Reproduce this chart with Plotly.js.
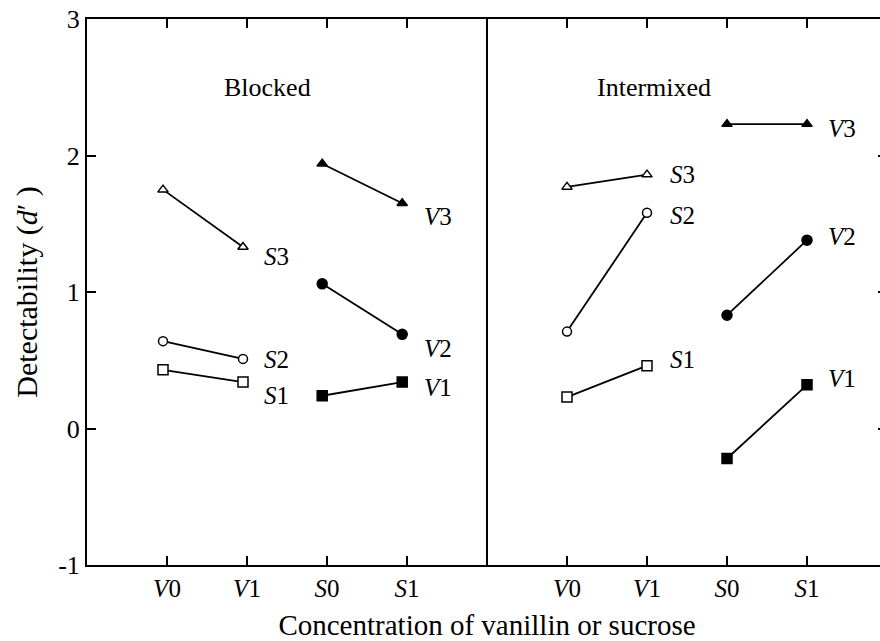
<!DOCTYPE html>
<html>
<head>
<meta charset="utf-8">
<script src="https://cdn.plot.ly/plotly-3.0.1.min.js"></script>
<style>
html,body{margin:0;padding:0;background:#fff;overflow:hidden;}
#wrap{width:880px;height:641px;overflow:hidden;position:relative;}
#chart{width:888px;height:641px;}
</style>
</head>
<body>
<div id="wrap"><div id="chart"></div></div>
<script>
const FONT = 'Liberation Serif';

// Tick positions and labels
const tickVals = [1, 2, 3, 4, 6, 7, 8, 9];
const tickText = ['<i>V</i>0', '<i>V</i>1', '<i>S</i>0', '<i>S</i>1', '<i>V</i>0', '<i>V</i>1', '<i>S</i>0', '<i>S</i>1'];
const yTickVals = [-1, 0, 1, 2, 3];
const yTickText = ['-1', '0', '1', '2', '3'];

// x positions of the conditions
const blockedVX = [0.95, 1.95];
const blockedSX = [2.94, 3.94];
const mixedVX = [6, 7];
const mixedSX = [8, 9];

// Blocked condition values (d')
const blockedS3 = [1.75, 1.33];
const blockedS2 = [0.64, 0.51];
const blockedS1 = [0.43, 0.34];
const blockedV3 = [1.94, 1.65];
const blockedV2 = [1.06, 0.69];
const blockedV1 = [0.24, 0.34];

// Intermixed condition values (d')
const mixedS3 = [1.77, 1.86];
const mixedS2 = [0.71, 1.58];
const mixedS1 = [0.23, 0.46];
const mixedV3 = [2.23, 2.23];
const mixedV2 = [0.83, 1.38];
const mixedV1 = [-0.22, 0.32];

const seriesNames = ['S3', 'S2', 'S1', 'V3', 'V2', 'V1'];
const symbols = ['triangle-up', 'circle', 'square', 'triangle-up', 'circle', 'square'];
const fills = ['#ffffff', '#ffffff', '#ffffff', '#000000', '#000000', '#000000'];
const sizes = [9, 9, 10, 9, 10, 10];

const groups = [
  {xs: [blockedVX, blockedVX, blockedVX, blockedSX, blockedSX, blockedSX],
   ys: [blockedS3, blockedS2, blockedS1, blockedV3, blockedV2, blockedV1],
   shifts: [[19, -10], [19, -1], [19, -13], [20, -13], [20, -14], [20, -5]]},
  {xs: [mixedVX, mixedVX, mixedVX, mixedSX, mixedSX, mixedSX],
   ys: [mixedS3, mixedS2, mixedS1, mixedV3, mixedV2, mixedV1],
   shifts: [[21, 0], [21, -3], [21, 6], [19, -4], [19, 4], [19, 6]]}
];

const traces = [];
const annotations = [];
groups.forEach(g => {
  for (let i = 0; i < 6; i++) {
    traces.push({
      type: 'scatter', mode: 'lines+markers',
      x: g.xs[i], y: g.ys[i],
      line: {color: '#000', width: 1.8},
      marker: {symbol: symbols[i], size: sizes[i], color: fills[i], line: {color: '#000', width: 1.5}},
      showlegend: false, hoverinfo: 'skip'
    });
    const n = seriesNames[i];
    annotations.push({
      x: g.xs[i][1], y: g.ys[i][1], xref: 'x', yref: 'y',
      text: '<i>' + n[0] + '</i>' + n.slice(1),
      showarrow: false, xanchor: 'left', yanchor: 'middle',
      xshift: g.shifts[i][0], yshift: g.shifts[i][1],
      font: {family: FONT, size: 25, color: '#000'}
    });
  }
});

annotations.push({x: 2.25, y: 2.5, xref: 'x', yref: 'y', text: 'Blocked', showarrow: false,
  font: {family: FONT, size: 26, color: '#000'}});
annotations.push({x: 7.09, y: 2.5, xref: 'x', yref: 'y', text: 'Intermixed', showarrow: false,
  font: {family: FONT, size: 26, color: '#000'}});

const layout = {
  width: 888, height: 641,
  margin: {l: 87, r: 1, t: 19, b: 76},
  paper_bgcolor: '#fff', plot_bgcolor: '#fff',
  font: {family: FONT, color: '#000'},
  xaxis: {
    range: [0, 10], tickvals: tickVals, ticktext: tickText,
    ticks: 'inside', ticklen: 9, tickwidth: 2, tickcolor: '#000',
    showline: true, linewidth: 2, linecolor: '#000', mirror: 'ticks',
    showgrid: false, zeroline: false,
    tickfont: {family: FONT, size: 25, color: '#000'},
    title: {text: 'Concentration of vanillin or sucrose', standoff: 15,
      font: {family: FONT, size: 29, color: '#000'}}
  },
  yaxis: {
    range: [-1, 3], tickvals: yTickVals, ticktext: yTickText,
    ticks: 'inside', ticklen: 9, tickwidth: 2, tickcolor: '#000',
    showline: true, linewidth: 2, linecolor: '#000', mirror: 'ticks',
    showgrid: false, zeroline: false,
    tickfont: {family: FONT, size: 26, color: '#000'},
    title: {text: 'Detectability (<i>d</i>′ )', standoff: 12,
      font: {family: FONT, size: 30, color: '#000'}}
  },
  shapes: [
    {type: 'line', xref: 'x', yref: 'paper', x0: 5, x1: 5, y0: 0, y1: 1,
     line: {color: '#000', width: 2}}
  ],
  annotations: annotations
};

Plotly.newPlot('chart', traces, layout, {displayModeBar: false, staticPlot: true});
</script>
</body>
</html>
